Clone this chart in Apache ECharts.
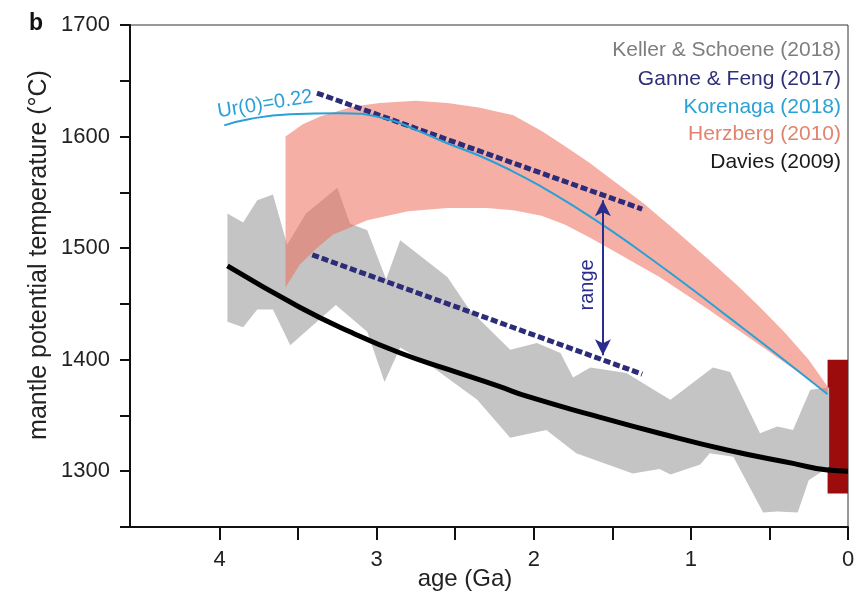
<!DOCTYPE html>
<html>
<head>
<meta charset="utf-8">
<script src="https://cdn.jsdelivr.net/npm/echarts@6/dist/echarts.min.js"></script>
<style>
  html, body { margin: 0; padding: 0; background: #fff; }
  #chart { width: 863px; height: 595px; }
</style>
</head>
<body>
<div id="chart"></div>
<script>
// all points are [age (Ga), temperature (°C)]
var kellerUpper = [[3.95,1531],[3.85,1523],[3.76,1543],[3.66,1548],[3.57,1503],[3.45,1531],[3.25,1554],[3.17,1522],[3.06,1516],[2.94,1472],[2.85,1507],[2.55,1474],[2.41,1445],[2.15,1409],[1.98,1415],[1.83,1406],[1.75,1384],[1.64,1393],[1.41,1388],[1.2,1370],[1.13,1364],[0.86,1393],[0.75,1389],[0.56,1334],[0.45,1340],[0.35,1337],[0.24,1373],[0.12,1375]];
var kellerLower = [[3.95,1434],[3.85,1429],[3.76,1445],[3.66,1445],[3.55,1413],[3.26,1449],[3.06,1425],[2.95,1380],[2.85,1411],[2.68,1397],[2.36,1364],[2.15,1330],[1.92,1337],[1.73,1316],[1.37,1298],[1.2,1302],[1.13,1297],[0.94,1306],[0.88,1316],[0.73,1313],[0.54,1263],[0.45,1264],[0.32,1263],[0.25,1292],[0.12,1304]];

var herzbergUpper = [[3.58,1600],[3.47,1611],[3.36,1618],[3.15,1627],[2.98,1630],[2.75,1632],[2.55,1630],[2.35,1626],[2.13,1619],[1.95,1605],[1.83,1594],[1.65,1577],[1.5,1561],[1.3,1540],[1.1,1516],[0.88,1489],[0.7,1466],[0.56,1447],[0.4,1424],[0.25,1400],[0.13,1376]];
var herzbergLower = [[3.58,1465],[3.49,1485],[3.38,1500],[3.28,1512],[3.06,1525],[2.8,1533],[2.55,1536],[2.3,1536],[2.13,1534],[1.95,1529],[1.8,1521],[1.65,1510],[1.5,1498],[1.2,1474],[0.9,1446],[0.5,1407],[0.13,1370]];

var korenaga = [[3.97,1610],[3.8,1616],[3.55,1620],[3.24,1621],[2.94,1616],[2.75,1606],[2.55,1594],[2.35,1583],[2.15,1570],[1.95,1555],[1.75,1538],[1.5,1515],[1.25,1490],[1.0,1464],[0.75,1437],[0.5,1410],[0.13,1369]];

var davies = [[3.95,1484],[3.49,1447],[3.17,1425],[2.85,1406],[2.54,1391],[2.22,1376],[2.04,1367],[1.62,1350],[1.2,1334],[0.77,1319],[0.35,1307],[0.13,1301],[0,1300]];

var ganneUpper = [[3.38,1639],[1.31,1535]];
var ganneLower = [[3.41,1494],[1.31,1387]];

var rangeArrow = [[1.56,1543],[1.56,1404]];
var presentBar = [[0.13,1400],[0,1280]];

var xTicks = [0,0.5,1,1.5,2,2.5,3,3.5,4];
var xLabels = [0,1,2,3,4];

var legendItems = [
  { text: "Keller & Schoene (2018)", color: "#7e7e7e" },
  { text: "Ganne & Feng (2017)", color: "#2d2f78" },
  { text: "Korenaga (2018)", color: "#2aa2d2" },
  { text: "Herzberg (2010)", color: "#e0846f" },
  { text: "Davies (2009)", color: "#1a1a1a" }
];

function band(name, upper, lower, fill) {
  var pts = upper.concat(lower.slice().reverse());
  return {
    name: name,
    type: "custom",
    data: pts,
    clip: true,
    silent: true,
    renderItem: function (params, api) {
      if (params.dataIndex !== 0) return null;
      return {
        type: "polygon",
        shape: { points: pts.map(function (p) { return api.coord(p); }) },
        style: { fill: fill }
      };
    }
  };
}

var chart = echarts.init(document.getElementById("chart"));

chart.setOption({
  animation: false,
  textStyle: { fontFamily: "Liberation Sans, Arial, sans-serif" },
  grid: {
    left: 130, right: 15, top: 25, bottom: 68,
    outerBoundsMode: "none",
    containLabel: false,
    show: true, borderColor: "#333", borderWidth: 1
  },
  xAxis: {
    type: "value",
    inverse: true,
    min: 0,
    max: 4.57,
    name: "age (Ga)",
    nameLocation: "middle",
    nameGap: 40,
    nameMoveOverlap: false,
    nameTextStyle: { fontSize: 24, color: "#222", padding: [0, 48, 0, 0] },
    axisLine: { onZero: false, lineStyle: { color: "#111", width: 2 } },
    axisTick: { customValues: xTicks, length: 13, lineStyle: { color: "#111", width: 2 } },
    axisLabel: { customValues: xLabels, fontSize: 22, color: "#222", margin: 22 },
    splitLine: { show: false }
  },
  yAxis: {
    type: "value",
    min: 1250,
    max: 1700,
    interval: 50,
    name: "mantle potential temperature (°C)",
    nameLocation: "middle",
    nameGap: 78,
    nameMoveOverlap: false,
    nameTextStyle: { fontSize: 25, color: "#222", padding: [0, 0, 0, 42] },
    axisLine: { show: true, onZero: false, lineStyle: { color: "#111", width: 2 } },
    axisTick: { length: 10, lineStyle: { color: "#111", width: 2 } },
    axisLabel: {
      fontSize: 22, color: "#222", margin: 20,
      formatter: function (v) { return v % 100 === 0 ? String(v) : ""; }
    },
    splitLine: { show: false }
  },
  series: [
    band("Keller & Schoene (2018)", kellerUpper, kellerLower, "#c4c4c4"),
    band("Herzberg (2010)", herzbergUpper, herzbergLower, "rgba(236,110,90,0.55)"),
    {
      name: "present",
      type: "line",
      data: [],
      silent: true,
      markArea: {
        silent: true,
        itemStyle: { color: "#9c0c0c" },
        data: [[{ coord: presentBar[0] }, { coord: presentBar[1] }]]
      }
    },
    {
      name: "Ganne & Feng (2017)",
      type: "line",
      data: ganneUpper,
      symbol: "none",
      lineStyle: { color: "#2c2c78", width: 5, type: [7, 3] }
    },
    {
      name: "Ganne & Feng (2017) low",
      type: "line",
      data: ganneLower,
      symbol: "none",
      lineStyle: { color: "#2c2c78", width: 5, type: [7, 3] },
      markLine: {
        silent: true,
        symbol: ["arrow", "arrow"],
        symbolSize: [12, 16],
        label: { show: false },
        lineStyle: { color: "#2b2d8c", width: 2, type: "solid" },
        data: [[{ coord: rangeArrow[0] }, { coord: rangeArrow[1] }]]
      }
    },
    {
      name: "Korenaga (2018)",
      type: "line",
      data: korenaga,
      smooth: true,
      symbol: "none",
      lineStyle: { color: "#2aa0d6", width: 2 }
    },
    {
      name: "Davies (2009)",
      type: "line",
      data: davies,
      smooth: true,
      symbol: "none",
      lineStyle: { color: "#000", width: 5 }
    }
  ]
});

// text annotations placed from data coordinates
var urAt = chart.convertToPixel({ gridIndex: 0 }, [3.71, 1629]);
var rangeAt = chart.convertToPixel({ gridIndex: 0 }, [1.66, 1467]);

var graphics = [
  {
    type: "text", left: 29, top: 12,
    style: { text: "b", font: "bold 23px Liberation Sans, Arial, sans-serif", fill: "#111" }
  },
  {
    type: "text", x: urAt[0], y: urAt[1], rotation: 0.16,
    style: { text: "Ur(0)=0.22", font: "20px Liberation Sans, Arial, sans-serif", fill: "#2aa0d6", align: "center", verticalAlign: "middle" }
  },
  {
    type: "text", x: rangeAt[0], y: rangeAt[1], rotation: Math.PI / 2,
    style: { text: "range", font: "20px Liberation Sans, Arial, sans-serif", fill: "#2b2d8c", align: "center", verticalAlign: "middle" }
  }
];
legendItems.forEach(function (it, i) {
  graphics.push({
    type: "text", x: 841, y: [50, 79, 107, 134, 162][i],
    style: { text: it.text, font: "21px Liberation Sans, Arial, sans-serif", fill: it.color, align: "right", verticalAlign: "middle" }
  });
});
chart.setOption({ graphic: graphics });
</script>
</body>
</html>
